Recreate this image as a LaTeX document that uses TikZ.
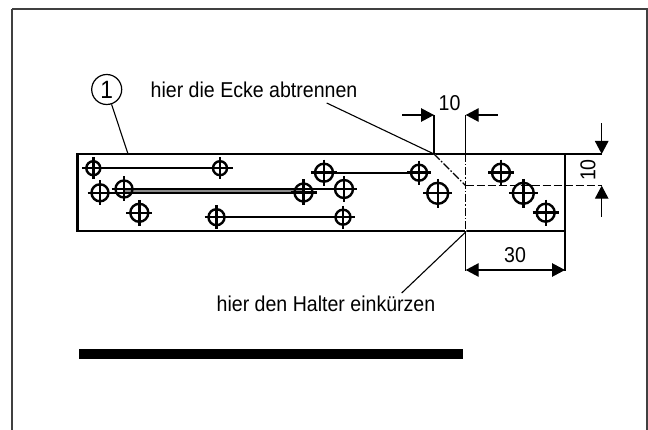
\documentclass[tikz,border=0pt]{standalone}
\usepackage{fontspec}
\setmainfont{Liberation Sans}
\usetikzlibrary{arrows.meta}
\tikzset{
 x=1pt,y=-1pt,
 outl/.style={line width=2.7pt,black},
 rod/.style={line width=2.2pt,black},
 dim/.style={line width=1.2pt,black},
 hd/.tip={Triangle[length=13pt,width=13.5pt]},
 lbl/.style={font=\fontsize{21.5}{24}\selectfont,inner sep=0pt,text=black},
 pick/.style={line width=1.1pt,black},
 center line/.style={line width=1.1pt,black,dash pattern=on 8pt off 2pt on 1.5pt off 2pt},
 hidden line/.style={line width=1.2pt,black,dash pattern=on 8pt off 3pt},
}
\newcommand{\nar}[1]{\scalebox{0.91}[1]{#1}}
\newcommand{\hole}[3]{%
 \draw[line width=2.4pt] (#1,#2) circle[radius=#3-1];
 \draw[line width=2.4pt] (#1-#3-3,#2) -- (#1+#3+3,#2) (#1,#2-#3-3) -- (#1,#2+#3+3);}
\begin{document}
\begin{tikzpicture}
\useasboundingbox (0,0) rectangle (648,430);
\draw[line width=2pt,black!75] (12,9) -- (647,9) -- (647,430) (12,9) -- (12,430);
% plate
\draw[outl] (77.5,154) rectangle (565,231);
% rods
\draw[line width=4pt,black!45] (124,190.7) -- (304,190.7);
\draw[rod] (93,168.2) -- (233,168.2);
\draw[rod,line width=1.6pt] (100,192.8) -- (304,192.8);
\draw[rod,line width=1.6pt] (124,188.8) -- (304,188.8);
\draw[rod] (304,189) -- (344,189);
\draw[rod] (216.5,217.2) -- (343,217.2);
\draw[rod] (324,172.7) -- (419,172.7);
% holes
\hole{93.3}{168.2}{8}
\hole{220}{168.2}{8}
\hole{100}{192.8}{9.5}
\hole{124}{189}{9.5}
\hole{139.3}{212.8}{10}
\hole{216.5}{217.2}{9}
\hole{303.5}{192.5}{10}
\hole{344}{189}{10}
\hole{343}{217.2}{8.5}
\hole{324}{172.7}{10}
\hole{419}{172.7}{9}
\hole{437.7}{193.3}{11.5}
\hole{501}{172.7}{10}
\hole{523.3}{193.3}{11.5}
\hole{545.7}{212.7}{10}
% cut lines
\draw[line width=1.4pt,white] (434,154) -- (465.7,185.7) -- (465.7,232);
\draw[center line] (434,154) -- (465.7,185.7);
\draw[center line] (465.7,154) -- (465.7,232);
\draw[hidden line] (465.7,185.7) -- (602,185.7);
% dims
\draw[dim] (434,154) -- (434,115) (465.7,154) -- (465.7,115);
\draw[dim,hd-] (434,115) -- (401.7,115);
\draw[dim,hd-] (465.7,115) -- (497.7,115);
\node[lbl] (n10a) at (449.5,103) {\nar{10}};
\draw[dim] (565,154) -- (602,154);
\draw[dim,hd-] (601.7,154) -- (601.7,123);
\draw[dim,hd-] (601.7,185.7) -- (601.7,216.7);
\node[lbl,rotate=90] (n10b) at (588,170) {\nar{10}};
\draw[dim] (465.7,232) -- (465.7,271) (565,232) -- (565,271);
\draw[dim,hd-hd] (465.7,270) -- (565,270);
\node[lbl] (n30) at (515,255) {\nar{30}};
% leaders
\node[draw,circle,line width=1.2pt,minimum size=30pt,inner sep=0pt,font=\fontsize{25}{27}\selectfont] (one) at (106.7,89.5) {\nar{1}};
\coordinate (pk1) at (128,154);
\draw[pick] (one) -- (pk1);
\node[lbl,anchor=west] (t1) at (150.5,89.5) {\nar{hier die Ecke abtrennen}};
\coordinate (pk2) at (434,154);
\coordinate (st2) at (326.7,103);
\draw[pick] (st2) -- (pk2);
\node[lbl] (t2) at (326,304) {\nar{hier den Halter einkürzen}};
\coordinate (pk3) at (465.7,232);
\coordinate (st3) at (401.7,293);
\draw[pick] (st3) -- (pk3);
% bar
\fill[black] (79,349) rectangle (462.7,359);
\end{tikzpicture}
\end{document}
